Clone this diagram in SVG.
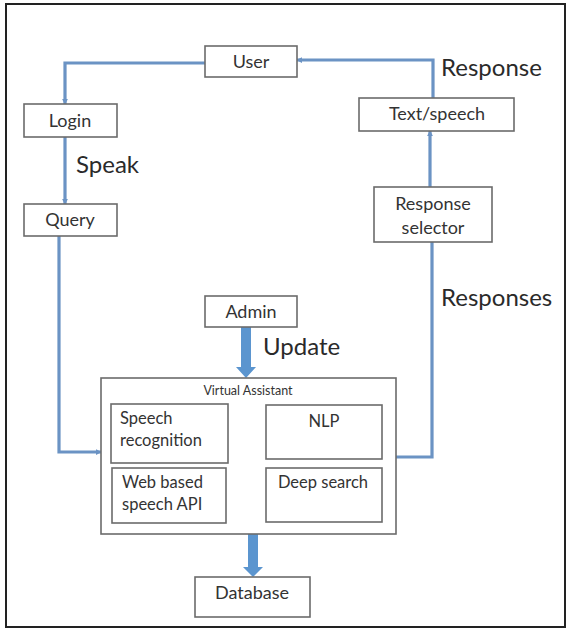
<svg xmlns="http://www.w3.org/2000/svg" width="570" height="631" viewBox="0 0 570 631">
<defs>
<style>
.box{fill:#fff;stroke:#6b6b6b;stroke-width:1.6}
.t{font-family:Lato,"Liberation Sans",sans-serif;fill:#333;font-size:18px}
.s{font-size:16.5px}
.c{text-anchor:middle}
.lbl{font-family:Lato,"Liberation Sans",sans-serif;fill:#2a2a2a;font-size:24px}
.ln{fill:none;stroke:#6b93c4;stroke-width:3.2}
.thick{fill:#5b95cf}
</style>
<marker id="ah" viewBox="0 0 8 8" refX="7" refY="4" markerWidth="6" markerHeight="6" markerUnits="userSpaceOnUse" orient="auto">
<path d="M0,0 L8,4 L0,8 z" fill="#6b93c4"/>
</marker>
</defs>
<rect x="0" y="0" width="570" height="631" fill="#fff"/>
<rect x="6" y="4" width="559" height="623" fill="none" stroke="#222" stroke-width="2"/>
<g id="connectors">
<path class="ln" d="M205,63 H65 V104" marker-end="url(#ah)"/>
<path class="ln" d="M65,137 V204" marker-end="url(#ah)"/>
<path class="ln" d="M59,236 V452 H101" marker-end="url(#ah)"/>
<path class="ln" d="M396,457 H432 V242"/>
<path class="ln" d="M430,187 V131" marker-end="url(#ah)"/>
<path class="ln" d="M433,98 V60 H297" marker-end="url(#ah)"/>
<path class="thick" d="M241,327 H251 V367 H256 L246,378 L236,367 H241 z"/>
<path class="thick" d="M248,534 H258 V567 H263 L253,577 L243,567 H248 z"/>
<text class="lbl" x="76" y="173">Speak</text>
<text class="lbl" x="441" y="76">Response</text>
<text class="lbl" x="441" y="306">Responses</text>
<text class="lbl" x="263" y="355">Update</text>
</g>
<g id="user"><rect class="box" x="205" y="46" width="92" height="31"/><text class="t c" x="251" y="68">User</text></g>
<g id="login"><rect class="box" x="24" y="104" width="93" height="33"/><text class="t c" x="70" y="127">Login</text></g>
<g id="query"><rect class="box" x="24" y="204" width="93" height="32"/><text class="t c" x="70" y="226">Query</text></g>
<g id="text-speech"><rect class="box" x="359" y="98" width="155" height="33"/><text class="t c" x="437" y="120">Text/speech</text></g>
<g id="response-selector"><rect class="box" x="374" y="187" width="118" height="55"/><text class="t c" x="433" y="210">Response</text><text class="t c" x="433" y="234">selector</text></g>
<g id="admin"><rect class="box" x="205" y="296" width="92" height="31"/><text class="t c" x="251" y="318">Admin</text></g>
<g id="virtual-assistant"><rect class="box" x="101" y="378" width="295" height="156"/><text class="t c" x="248" y="395" style="font-size:12.5px">Virtual Assistant</text></g>
<g id="speech-recognition"><rect class="box" x="111" y="404" width="117" height="59"/><text class="t s" x="120" y="424">Speech</text><text class="t s" x="120" y="446">recognition</text></g>
<g id="nlp"><rect class="box" x="266" y="405" width="116" height="54"/><text class="t s c" x="324" y="427">NLP</text></g>
<g id="web-speech-api"><rect class="box" x="112" y="468" width="114" height="55"/><text class="t s" x="122" y="488">Web based</text><text class="t s" x="122" y="510">speech API</text></g>
<g id="deep-search"><rect class="box" x="266" y="468" width="116" height="54"/><text class="t s c" x="323" y="488">Deep search</text></g>
<g id="database"><rect class="box" x="195" y="577" width="115" height="40"/><text class="t c" x="252" y="599">Database</text></g>
</svg>
